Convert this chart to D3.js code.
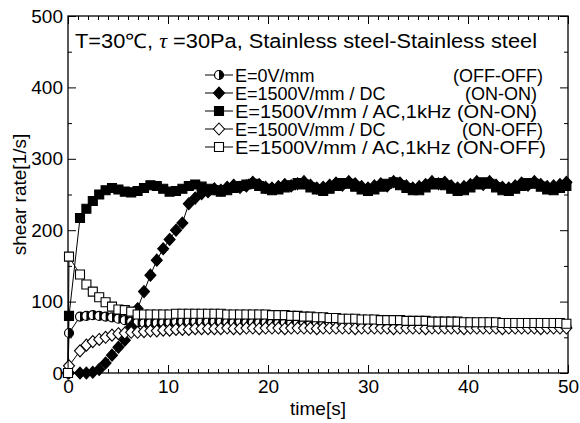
<!DOCTYPE html>
<html>
<head>
<meta charset="utf-8">
<script src="https://cdnjs.cloudflare.com/ajax/libs/d3/7.8.5/d3.min.js"></script>
<style>
body { margin: 0; background: #fff; }
text { font-family: "Liberation Sans", Arial, sans-serif; fill: #000; }
</style>
</head>
<body>
<script>
// DATA
// =============================================================================

// sample times [s]
const times = [0, 0.1, 1.2, 1.84, 2.48, 3.12, 3.76, 4.4, 5.04, 5.68, 6.32, 6.96, 7.6, 8.24,
  8.88, 9.52, 10.16, 10.8, 11.44, 12.08, 12.72, 13.36, 14, 14.64, 15.28, 15.92, 16.56,
  17.2, 17.84, 18.48, 19.12, 19.76, 20.4, 21.04, 21.68, 22.32, 22.96, 23.6, 24.24, 24.88,
  25.52, 26.16, 26.8, 27.44, 28.08, 28.72, 29.36, 30, 30.64, 31.28, 31.92, 32.56, 33.2,
  33.84, 34.48, 35.12, 35.76, 36.4, 37.04, 37.68, 38.32, 38.96, 39.6, 40.24, 40.88, 41.52,
  42.16, 42.8, 43.44, 44.08, 44.72, 45.36, 46, 46.64, 47.28, 47.92, 48.56, 49.2, 49.84];

// shear rate [1/s]
const offOff = [0, 56, 79, 80, 81, 80, 79, 78, 76, 74, 72, 71, 70, 70, 70, 71, 71, 72, 72, 72, 72, 72,
  72, 72, 72, 71, 71, 72, 71, 71, 71, 71, 70, 70, 71, 70, 70, 70, 70, 69, 70, 69,
  69, 69, 69, 68, 69, 68, 68, 68, 68, 68, 68, 67, 68, 67, 67, 67, 67, 67, 67, 66,
  66, 67, 66, 66, 66, 66, 66, 66, 65, 66, 65, 65, 65, 65, 65, 65, 65];

const dcOnOn = [0, 0, 0, 0, 1, 5, 14, 25, 36, 46, 65, 90, 114, 137, 158, 174, 187, 200, 210, 237, 245, 251,
  254, 258, 256, 260, 263, 260, 262, 267, 264, 260, 259, 261, 264, 262, 265, 268, 263, 259, 260, 263,
  266, 263, 268, 265, 261, 259, 262, 265, 262, 268, 266, 262, 259, 261, 264, 268, 265, 267, 262, 259,
  261, 264, 268, 264, 268, 263, 260, 259, 262, 266, 263, 268, 264, 261, 262, 264, 267];

const acOnOn = [0, 80, 217, 230, 241, 250, 256, 259, 257, 254, 253, 255, 259, 263, 262, 258, 254, 255, 258, 262, 264, 261,
  258, 256, 254, 256, 259, 262, 264, 265, 262, 258, 256, 257, 260, 263, 266, 264, 260, 257, 255, 258,
  262, 266, 265, 261, 257, 255, 257, 261, 265, 267, 263, 259, 256, 256, 260, 264, 266, 263, 258, 255,
  256, 260, 264, 267, 265, 260, 256, 255, 258, 262, 266, 265, 261, 257, 256, 259, 262];

const dcOnOff = [0, 10, 31, 39, 44, 47, 50, 53, 55, 56, 57, 57, 58, 59, 59, 60, 60, 61, 61, 61, 62, 62,
  62, 62, 62, 63, 62, 62, 63, 63, 62, 63, 63, 63, 62, 63, 63, 63, 63, 62, 63, 63,
  63, 63, 63, 62, 63, 63, 63, 63, 63, 62, 63, 63, 63, 63, 62, 63, 63, 63, 63, 63,
  62, 63, 63, 63, 63, 63, 62, 63, 63, 63, 63, 63, 62, 63, 63, 63, 63];

const acOnOff = [0, 163, 138, 124, 114, 106, 99, 93, 89, 88, 86, 82, 82, 82, 82, 82, 82, 83, 83, 83, 83, 83,
  83, 83, 83, 82, 82, 82, 82, 82, 82, 82, 81, 81, 81, 80, 80, 79, 79, 78, 78, 77,
  77, 76, 76, 76, 75, 75, 75, 74, 74, 74, 74, 73, 73, 73, 73, 72, 72, 72, 72, 72,
  71, 71, 71, 71, 71, 71, 70, 70, 70, 70, 70, 70, 70, 70, 70, 70, 69];

const legendLabels = ["E=0V/mm", "E=1500V/mm / DC", "E=1500V/mm / AC,1kHz", "E=1500V/mm / DC", "E=1500V/mm / AC,1kHz"];
const legendNotes = ["(OFF-OFF)", "(ON-ON)", "(ON-ON)", "(ON-OFF)", "(ON-OFF)"];

const xTicks = [0, 10, 20, 30, 40, 50];
const yTicks = [0, 100, 200, 300, 400, 500];

// CONFIG VARS
// =============================================================================

const width = 580;
const height = 423;
const padding = { left: 68, top: 16, right: 12, bottom: 50 };
const fontSize = 19;
const legendFont = 18;

const series = [
  { values: offOff,  marker: "half",    fill: "#fff" },
  { values: dcOnOn,  marker: "diamond", fill: "#000" },
  { values: acOnOn,  marker: "square",  fill: "#000" },
  { values: dcOnOff, marker: "diamond", fill: "#fff" },
  { values: acOnOff, marker: "square",  fill: "#fff" }
];

// where each legend line ends (the original lined the notes up with spaces)
const legendEnd = [543, 537, 537, 543, 546];
const noteSeparate = [true, true, false, true, false];

// SCALES
// =============================================================================

const xScale = d3.scaleLinear()
    .domain([0, 50])
    .range([padding.left, width - padding.right]);

const yScale = d3.scaleLinear()
    .domain([0, 500])
    .range([height - padding.bottom, padding.top]);

// INITIALIZE THE SVG
// =============================================================================

const svg = d3.select("body")
    .append("svg")
    .attr("width", width)
    .attr("height", height);

svg.append("rect")
    .attr("width", width)
    .attr("height", height)
    .attr("fill", "#fff");

// AXES
// =============================================================================

const plotBottom = height - padding.bottom;
const plotRight = width - padding.right;

function styleAxis(g) {
  g.select(".domain").remove();
  g.selectAll("line").attr("stroke", "#000").attr("stroke-width", 1);
  g.selectAll("text").style("font-size", fontSize + "px").attr("fill", "#000");
}

// minor ticks
svg.append("g").attr("transform", `translate(0,${plotBottom})`)
    .call(d3.axisBottom(xScale).tickValues(d3.range(0, 51)).tickSize(-4).tickFormat(""))
    .call(styleAxis);
svg.append("g").attr("transform", `translate(0,${padding.top})`)
    .call(d3.axisTop(xScale).tickValues(d3.range(0, 51)).tickSize(-4).tickFormat(""))
    .call(styleAxis);
svg.append("g").attr("transform", `translate(${padding.left},0)`)
    .call(d3.axisLeft(yScale).tickValues(d3.range(50, 500, 100)).tickSize(-4).tickFormat(""))
    .call(styleAxis);
svg.append("g").attr("transform", `translate(${plotRight},0)`)
    .call(d3.axisRight(yScale).tickValues(d3.range(50, 500, 100)).tickSize(-4).tickFormat(""))
    .call(styleAxis);

// major ticks
svg.append("g").attr("transform", `translate(0,${plotBottom})`)
    .call(d3.axisBottom(xScale).tickValues(xTicks).tickSize(-8).tickPadding(7))
    .call(styleAxis);
svg.append("g").attr("transform", `translate(0,${padding.top})`)
    .call(d3.axisTop(xScale).tickValues(xTicks).tickSize(-8).tickFormat(""))
    .call(styleAxis);
svg.append("g").attr("transform", `translate(${padding.left},0)`)
    .call(d3.axisLeft(yScale).tickValues(yTicks).tickSize(-8).tickPadding(5))
    .call(styleAxis);
svg.append("g").attr("transform", `translate(${plotRight},0)`)
    .call(d3.axisRight(yScale).tickValues(yTicks).tickSize(-8).tickFormat(""))
    .call(styleAxis);

// frame
svg.append("rect")
    .attr("x", padding.left)
    .attr("y", padding.top)
    .attr("width", plotRight - padding.left)
    .attr("height", plotBottom - padding.top)
    .attr("fill", "none")
    .attr("stroke", "#000")
    .attr("stroke-width", 1.3);

// axis titles
svg.append("text")
    .attr("x", (padding.left + plotRight) / 2)
    .attr("y", 415)
    .attr("text-anchor", "middle")
    .style("font-size", fontSize + "px")
    .text("time[s]");

svg.append("text")
    .attr("transform", `translate(26,${(padding.top + plotBottom) / 2}) rotate(-90)`)
    .attr("text-anchor", "middle")
    .style("font-size", fontSize + "px")
    .text("shear rate[1/s]");

// MARKERS
// =============================================================================

function markerPath(kind) {
  if (kind === "square") return "M-4.5,-4.5H4.5V4.5H-4.5Z";
  if (kind === "diamond") return "M0,-6L5.5,0L0,6L-5.5,0Z";
  return null;
}

function drawMarker(g, s) {
  if (s.marker === "half") {
    g.append("circle").attr("r", 4.5).attr("fill", "#fff").attr("stroke", "#000").attr("stroke-width", 1.2);
    g.append("path").attr("d", "M0,-4.5A4.5,4.5 0 0,1 0,4.5Z").attr("fill", "#000");
  } else {
    g.append("path")
        .attr("d", markerPath(s.marker))
        .attr("fill", s.fill)
        .attr("stroke", "#000")
        .attr("stroke-width", 1.1);
  }
}

// SERIES
// =============================================================================

const line = d3.line()
    .x(d => xScale(d.t))
    .y(d => yScale(d.v));

series.forEach(function(s) {
  const pts = times.map((t, i) => ({ t: t, v: s.values[i] }));
  const g = svg.append("g");

  g.append("path")
      .datum(pts)
      .attr("d", line)
      .attr("fill", "none")
      .attr("stroke", "#000")
      .attr("stroke-width", 1);

  g.selectAll("g.pt")
      .data(pts)
      .enter()
      .append("g")
      .attr("class", "pt")
      .attr("transform", d => `translate(${xScale(d.t)},${yScale(d.v)})`)
      .each(function() { drawMarker(d3.select(this), s); });
});

// TITLE & LEGEND
// =============================================================================

const title = svg.append("text")
    .attr("x", 75)
    .attr("y", 48)
    .attr("textLength", 462)
    .attr("lengthAdjust", "spacingAndGlyphs")
    .style("font-size", "20px");
title.append("tspan").text("T=30\u2103,  ");
title.append("tspan").style("font-family", "'Liberation Serif', serif").style("font-style", "italic").text("\u03c4");
title.append("tspan").text(" =30Pa, Stainless steel-Stainless steel");

const legend = svg.append("g");
series.forEach(function(s, i) {
  const cy = 75 + i * 18;
  legend.append("line")
      .attr("x1", 205).attr("x2", 233)
      .attr("y1", cy).attr("y2", cy)
      .attr("stroke", "#000");
  drawMarker(legend.append("g").attr("transform", `translate(219,${cy})`), s);

  const t = legend.append("text")
      .attr("x", 235)
      .attr("y", cy + 6.5)
      .style("font-size", legendFont + "px");
  if (noteSeparate[i]) {
    t.text(legendLabels[i]);
    legend.append("text")
        .attr("x", legendEnd[i])
        .attr("y", cy + 6.5)
        .attr("text-anchor", "end")
        .style("font-size", legendFont + "px")
        .text(legendNotes[i]);
  } else {
    t.attr("textLength", legendEnd[i] - 235)
        .attr("lengthAdjust", "spacingAndGlyphs")
        .text(legendLabels[i] + " " + legendNotes[i]);
  }
});
</script>
</body>
</html>
